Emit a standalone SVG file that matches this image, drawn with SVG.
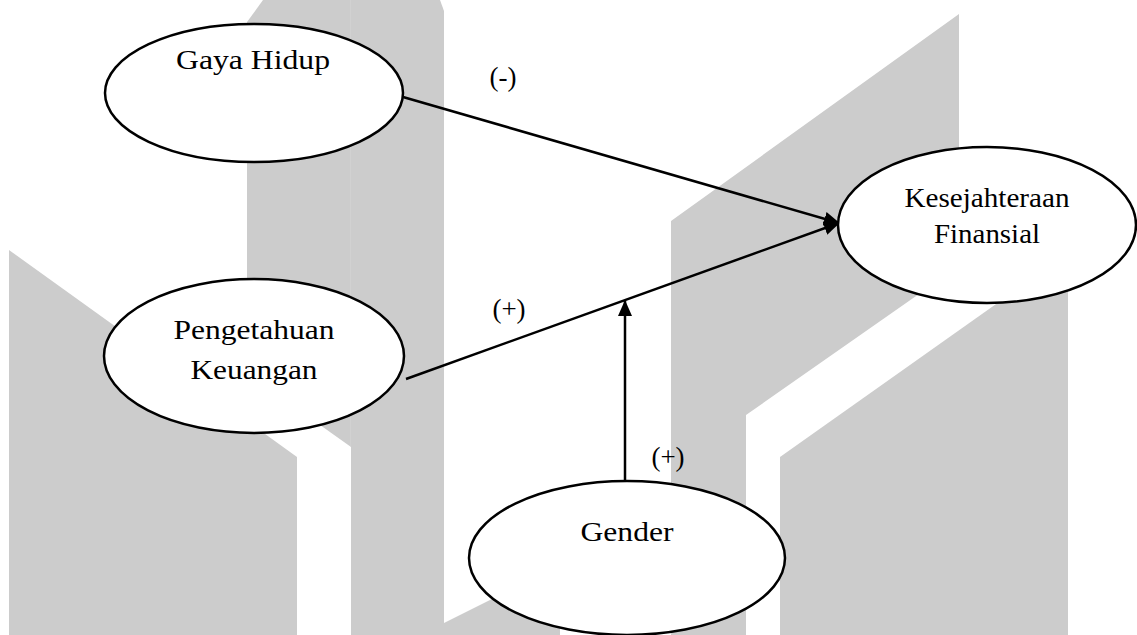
<svg xmlns="http://www.w3.org/2000/svg" width="1137" height="635" viewBox="0 0 1137 635">
<defs>
<style>
.bg{fill:#cccccc;stroke:none}
.node{fill:#ffffff;stroke:#000000;stroke-width:2.5}
.lbl{font-family:"Liberation Serif","Times New Roman",serif;font-size:27px;fill:#000000;text-anchor:middle}
.edge{stroke:#000000;stroke-width:2.5;fill:none}
</style>
<marker id="arr" markerWidth="16" markerHeight="14" refX="15" refY="7" orient="auto" markerUnits="userSpaceOnUse">
<path d="M0,0 L16,7 L0,14 Z" fill="#000000"/>
</marker>
</defs>
<rect width="1137" height="635" fill="#ffffff"/>
<g id="background">
<polygon class="bg" points="9,250 297,457 297,635 9,635"/>
<polygon class="bg" points="247,22 263,0 351,0 351,447 247,373"/>
<polygon class="bg" points="351,0 440,0 444,11 444,635 351,635"/>
<line x1="350.5" y1="0" x2="350.5" y2="446" stroke="#d1d1d1" stroke-width="1"/>
<polygon class="bg" points="444,623 560,565 560,635 444,635"/>
<polygon class="bg" points="671,221 959,14 959,266 746,415 746,635 671,635"/>
<polygon class="bg" points="780,457 1068,253 1068,635 780,635"/>
</g>
<g id="connectors">
<line class="edge" x1="403" y1="97" x2="839" y2="223" marker-end="url(#arr)"/>
<line class="edge" x1="406" y1="379" x2="839" y2="223" marker-end="url(#arr)"/>
<line class="edge" x1="625" y1="481" x2="625" y2="301" stroke-width="1.8" marker-end="url(#arr)"/>
<text class="lbl" x="503" y="86">(-)</text>
<text class="lbl" x="509" y="318">(+)</text>
<text class="lbl" x="668" y="466">(+)</text>
</g>
<g id="gaya-hidup">
<ellipse class="node" cx="254" cy="93" rx="149" ry="69"/>
<text class="lbl" x="253" y="69" textLength="154" lengthAdjust="spacingAndGlyphs">Gaya Hidup</text>
</g>
<g id="pengetahuan-keuangan">
<ellipse class="node" cx="254" cy="356" rx="150" ry="77"/>
<text class="lbl" x="254" y="339" textLength="161" lengthAdjust="spacingAndGlyphs">Pengetahuan</text>
<text class="lbl" x="254" y="379" textLength="127" lengthAdjust="spacingAndGlyphs">Keuangan</text>
</g>
<g id="kesejahteraan-finansial">
<ellipse class="node" cx="987" cy="225" rx="149" ry="78"/>
<text class="lbl" x="987" y="207" textLength="165" lengthAdjust="spacingAndGlyphs">Kesejahteraan</text>
<text class="lbl" x="987" y="243" textLength="106" lengthAdjust="spacingAndGlyphs">Finansial</text>
</g>
<g id="gender">
<ellipse class="node" cx="627" cy="558" rx="158" ry="77"/>
<text class="lbl" x="627" y="541" textLength="93" lengthAdjust="spacingAndGlyphs">Gender</text>
</g>
</svg>
